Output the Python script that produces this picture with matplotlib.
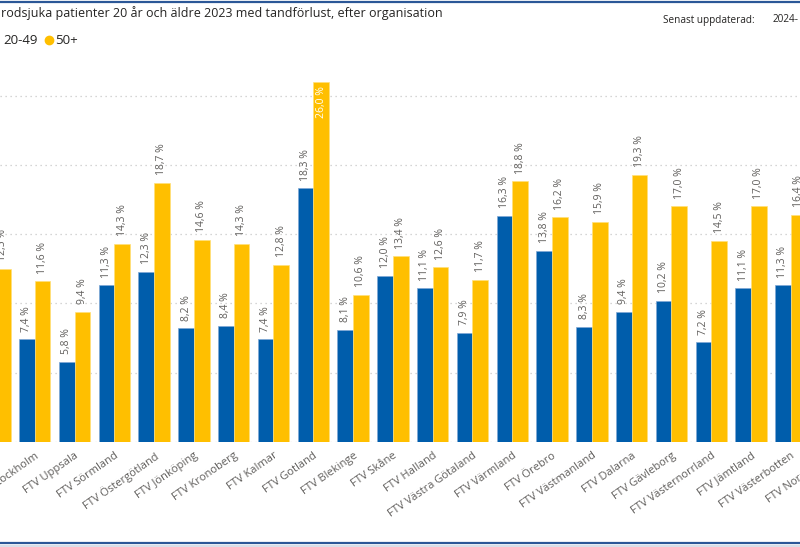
import matplotlib
matplotlib.use("Agg")
import matplotlib.pyplot as plt
from matplotlib.lines import Line2D
import numpy as np

plt.rcParams['font.family'] = ['Open Sans', 'DejaVu Sans']

categories = ["Riket", "FTV Stockholm", "FTV Uppsala", "FTV Sörmland", "FTV Östergötland",
              "FTV Jönköping", "FTV Kronoberg", "FTV Kalmar", "FTV Gotland", "FTV Blekinge",
              "FTV Skåne", "FTV Halland", "FTV Västra Götaland", "FTV Värmland", "FTV Örebro",
              "FTV Västmanland", "FTV Dalarna", "FTV Gävleborg", "FTV Västernorrland",
              "FTV Jämtland", "FTV Västerbotten", "FTV Norrbotten"]
age_20_49 = [9.6, 7.4, 5.8, 11.3, 12.3, 8.2, 8.4, 7.4, 18.3, 8.1, 12.0, 11.1, 7.9, 16.3,
             13.8, 8.3, 9.4, 10.2, 7.2, 11.1, 11.3, 9.0]
age_50_plus = [12.5, 11.6, 9.4, 14.3, 18.7, 14.6, 14.3, 12.8, 26.0, 10.6, 13.4, 12.6, 11.7,
               18.8, 16.2, 15.9, 19.3, 17.0, 14.5, 17.0, 16.4, 15.0]
series_names = ["20-49", "50+"]

BLUE = "#005DAB"
YELLOW = "#FFBF00"
GREY = "#605E5C"

fig = plt.figure(figsize=(8.0, 5.47), dpi=100)
ax = fig.add_axes([0.0, 0.192, 1.0, 0.684])

x = np.arange(len(categories))
w = 0.395
b1 = ax.bar(x - w / 2, age_20_49, width=w, color=BLUE, edgecolor="#7FA8D6", linewidth=0.5, zorder=3)
b2 = ax.bar(x + w / 2, age_50_plus, width=w, color=YELLOW, edgecolor="#FFE07A", linewidth=0.5, zorder=3)

for yv in [0, 5, 10, 15, 20, 25]:
    ax.axhline(yv, color="#C8C8C8", linestyle=(0, (1, 3)), linewidth=0.9, zorder=1)

def fmt(v):
    return f"{v:.1f}".replace(".", ",") + " %"

for bars, vals in [(b1, age_20_49), (b2, age_50_plus)]:
    for rect, v in zip(bars, vals):
        cx = rect.get_x() + rect.get_width() / 2
        if v > 24:
            ax.text(cx, v - 0.3, fmt(v), rotation=90, ha="center", va="top",
                    color="white", fontsize=7.5, zorder=4, clip_on=True)
        else:
            ax.text(cx, v + 0.55, fmt(v), rotation=90, ha="center", va="bottom",
                    color=GREY, fontsize=7.5, zorder=4, clip_on=True)

ax.set_xticks(x)
ax.set_xticklabels(categories, rotation=35, ha="right", rotation_mode="anchor",
                   color=GREY, fontsize=8)
ax.tick_params(axis="x", length=0, pad=6)
ax.set_yticks([])
ax.set_ylim(0, 27)
ax.set_xlim(0.128, 20.23)
for s in ax.spines.values():
    s.set_visible(False)

# category labels whose tick lies just beyond the visible range (still partly visible)
xmin, xmax = ax.get_xlim()
for xi, name in zip(x, categories):
    if xi > xmax:
        ax.annotate(name, xy=(xi, 0), xycoords=("data", "axes fraction"),
                    xytext=(0, -6), textcoords="offset points",
                    rotation=35, ha="right", va="top", rotation_mode="anchor",
                    color=GREY, fontsize=8, annotation_clip=False)

# Title (cropped at left)
fig.text(0.001, 1 - 13 / 547, "rodsjuka patienter 20 år och äldre 2023 med tandförlust, efter organisation",
         fontsize=9, color="#252423", ha="left", va="center")
# Legend
fig.text(0.004, 1 - 40 / 547, series_names[0], fontsize=9.5, color="#252423", ha="left", va="center")
fig.add_artist(Line2D([49 / 800], [1 - 40 / 547], marker="o", markersize=6,
                      color=YELLOW, linestyle="none"))
fig.text(55 / 800, 1 - 40 / 547, series_names[1], fontsize=9.5, color="#252423", ha="left", va="center")
# Update info
fig.text(663 / 800, 1 - 20 / 547, "Senast uppdaterad:", fontsize=7.2, color="#252423", ha="left", va="center")
fig.text(773 / 800, 1 - 20 / 547, "2024-", fontsize=7.2, color="#252423", ha="left", va="center")

# Frame lines top/bottom
fig.add_artist(Line2D([0, 1], [1 - 1.5 / 547, 1 - 1.5 / 547], color="#2B5797", linewidth=1.6))
fig.add_artist(Line2D([0, 1], [1 - 543 / 547, 1 - 543 / 547], color="#2B5797", linewidth=1.6))
fig.add_artist(Line2D([0, 1], [1 - 545.5 / 547, 1 - 545.5 / 547], color="#D8DEE8", linewidth=1.5))

fig.savefig("out.png", dpi=100)
